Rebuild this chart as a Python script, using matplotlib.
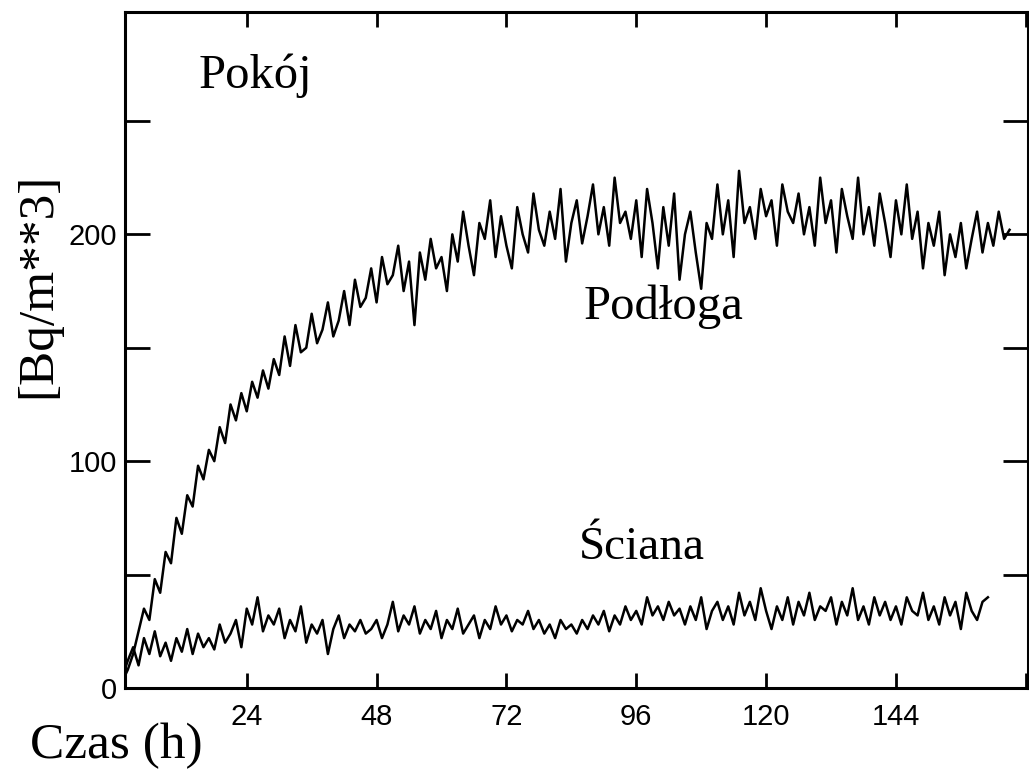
import matplotlib.pyplot as plt
from matplotlib.ticker import FixedLocator, FuncFormatter

# Podłoga (floor), hourly readings from t = 1 h
floor_start = 1
floor_vals = [
    3, 8, 15, 25, 35, 30, 48, 42, 60, 55,
    75, 68, 85, 80, 98, 92, 105, 100, 115, 108,
    125, 118, 130, 122, 135, 128, 140, 132, 145, 138,
    155, 142, 160, 148, 150, 165, 152, 158, 170, 155,
    162, 175, 160, 180, 168, 172, 185, 170, 190, 178,
    182, 195, 175, 188, 160, 192, 180, 198, 185, 190,
    175, 200, 188, 210, 195, 182, 205, 198, 215, 190,
    208, 195, 185, 212, 200, 192, 218, 202, 195, 210,
    198, 220, 188, 205, 215, 196, 208, 222, 200, 212,
    195, 225, 205, 210, 198, 215, 190, 220, 205, 185,
    212, 195, 218, 180, 200, 210, 192, 176, 205, 198,
    222, 200, 215, 190, 228, 205, 212, 198, 220, 208,
    215, 195, 222, 210, 205, 218, 200, 212, 195, 225,
    205, 215, 192, 220, 208, 198, 225, 200, 212, 195,
    218, 205, 190, 215, 200, 222, 198, 210, 185, 205,
    195, 210, 182, 200, 190, 205, 185, 198, 210, 192,
    205, 195, 210, 198, 202,
]

# Ściana (wall), hourly readings from t = 1 h
wall_start = 1
wall_vals = [
    5, 12, 18, 10, 22, 15, 25, 14, 20, 12,
    22, 16, 26, 15, 24, 18, 22, 17, 28, 20,
    24, 30, 18, 35, 28, 40, 25, 32, 28, 35,
    22, 30, 25, 36, 20, 28, 24, 30, 15, 26,
    32, 22, 28, 25, 30, 24, 26, 30, 22, 28,
    38, 25, 32, 28, 36, 24, 30, 26, 34, 22,
    30, 26, 35, 24, 28, 32, 22, 30, 26, 36,
    28, 32, 25, 30, 28, 34, 26, 30, 24, 28,
    22, 30, 26, 28, 24, 30, 26, 32, 28, 34,
    25, 32, 28, 36, 30, 34, 28, 40, 32, 36,
    30, 38, 32, 35, 28, 36, 30, 40, 26, 34,
    38, 30, 36, 28, 42, 32, 38, 30, 44, 34,
    26, 36, 30, 40, 28, 38, 32, 42, 30, 36,
    34, 40, 28, 38, 32, 44, 30, 36, 28, 40,
    32, 38, 30, 36, 28, 40, 34, 32, 42, 30,
    36, 28, 40, 32, 38, 26, 42, 34, 30, 38,
    40,
]

x_ticks = [24, 48, 72, 96, 120, 144, 168]
y_ticks = [0, 50, 100, 150, 200, 250]
y_labelled = [0, 100, 200]

serif = ['Liberation Serif', 'DejaVu Serif']
sans = ['Liberation Sans', 'DejaVu Sans']

fig = plt.figure(figsize=(10.29, 7.77), dpi=100)
ax = fig.add_axes([0.1215, 0.1145, 0.878, 0.870])

t_floor = [floor_start + i for i in range(len(floor_vals))]
t_wall = [wall_start + i for i in range(len(wall_vals))]
ax.plot(t_floor, floor_vals, color='black', lw=1.8)
ax.plot(t_wall, wall_vals, color='black', lw=1.8)

ax.set_xlim(1.5, 168.5)
ax.set_ylim(0, 298)

for s in ax.spines.values():
    s.set_linewidth(2.2)

ax.xaxis.set_major_locator(FixedLocator(x_ticks))
ax.yaxis.set_major_locator(FixedLocator(y_ticks))
ax.xaxis.set_major_formatter(FuncFormatter(lambda v, p: '' if v >= 168 else f'{v:.0f}'))
ax.yaxis.set_major_formatter(FuncFormatter(lambda v, p: f'{v:.0f}' if v in y_labelled else ''))
ax.tick_params(axis='x', which='major', direction='in', length=11, width=2,
               top=True, labelsize=21, pad=11)
ax.tick_params(axis='y', which='major', direction='in', length=18, width=2,
               right=True, labelsize=21, pad=6)
for lab in ax.get_xticklabels() + ax.get_yticklabels():
    lab.set_family(sans)

ax.text(25.5, 270, 'Pokój', fontsize=35, family=serif, ha='center', va='center')
ax.text(101, 168, 'Podłoga', fontsize=35, family=serif, ha='center', va='center')
ax.text(97, 62, 'Ściana', fontsize=34, family=serif, ha='center', va='center')

fig.text(0.037, 0.633, '[Bq/m**3]', fontsize=37, family=serif, rotation=90,
         ha='center', va='center')
fig.text(0.029, 0.04, 'Czas (h)', fontsize=37, family=serif, ha='left', va='center')

fig.savefig('out.png', dpi=100)
